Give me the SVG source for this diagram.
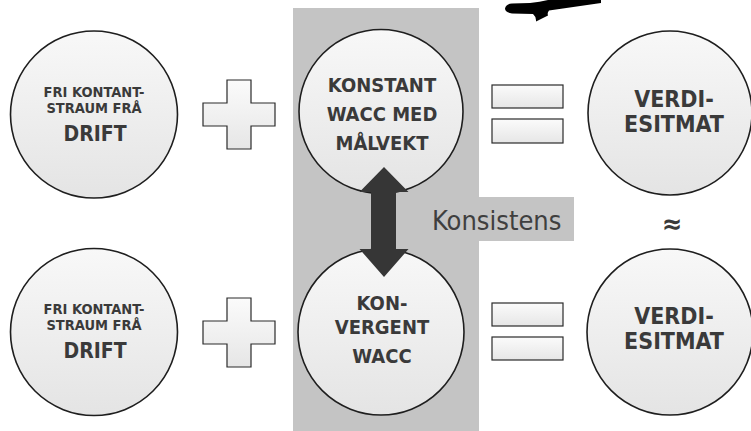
<svg xmlns="http://www.w3.org/2000/svg" width="751" height="431" viewBox="0 0 751 431">
  <defs>
    <linearGradient id="ballFill" x1="0" y1="0" x2="0" y2="1">
      <stop offset="0" stop-color="#f8f8f8"/>
      <stop offset="1" stop-color="#e4e4e4"/>
    </linearGradient>
    <linearGradient id="symFill" x1="0" y1="0" x2="0" y2="1">
      <stop offset="0" stop-color="#fbfbfb"/>
      <stop offset="1" stop-color="#e6e6e6"/>
    </linearGradient>
  </defs>
  <style>
    .ball { fill: url(#ballFill); stroke: #1e1e1e; stroke-width: 1.6; }
    .sym { fill: url(#symFill); stroke: #2a2a2a; stroke-width: 1.2; }
    .band { fill: #c4c4c4; }
    .lbl { font-family: "DejaVu Sans Condensed", "DejaVu Sans", sans-serif; font-stretch: condensed; font-weight: bold; fill: #3a3a3a; text-anchor: middle; }
    .s { font-size: 14.5px; }
    .m { font-size: 20px; }
    .d { font-size: 21px; }
    .l { font-size: 23px; }
    .ap { font-size: 27px; }
    .note { font-family: "DejaVu Sans Condensed", "DejaVu Sans", sans-serif; font-stretch: condensed; font-size: 27px; fill: #3f3f3f; }
    .link { fill: #363636; }
  </style>

  <!-- grey band behind the WACC column, with the consistency tab -->
  <g id="band">
    <rect class="band" x="293" y="8" width="186" height="423"/>
    <rect class="band" x="430" y="197" width="144" height="44"/>
    <text class="note" x="432" y="230">Konsistens</text>
  </g>

  <!-- curved black stroke at the top edge -->
  <path fill="#000" d="M548 0 L601 0 L601 3 L549 10.5 Q547 13 548 15.5 L536 21.5 Q536.5 17 533 14 L512 13.5 Q505 12.5 505 8.5 Q506 4 512 3.5 L530 3 Q540 2 548 0 Z"/>

  <!-- upper row -->
  <g id="fcf-top">
    <circle class="ball" cx="94" cy="114.5" r="83.5"/>
    <text class="lbl s" x="94" y="97">FRI KONTANT-</text>
    <text class="lbl s" x="94" y="113">STRAUM FRÅ</text>
    <text class="lbl d" x="95" y="141">DRIFT</text>
  </g>
  <g id="plus-top">
    <path class="sym" d="M227 80 H251 V103 H275 V126 H251 V149 H227 V126 H203 V103 H227 Z"/>
  </g>
  <g id="wacc-constant">
    <circle class="ball" cx="381" cy="111.5" r="82"/>
    <text class="lbl m" x="382" y="92">KONSTANT</text>
    <text class="lbl m" x="382" y="121">WACC MED</text>
    <text class="lbl m" x="382" y="150">MÅLVEKT</text>
  </g>
  <g id="equals-top">
    <rect class="sym" x="492" y="85" width="71" height="23"/>
    <rect class="sym" x="492" y="119" width="71" height="24"/>
  </g>
  <g id="value-top">
    <circle class="ball" cx="670" cy="113" r="82"/>
    <text class="lbl l" x="674" y="107">VERDI-</text>
    <text class="lbl l" x="674" y="132">ESITMAT</text>
  </g>

  <!-- approximately equal -->
  <g id="approx">
    <text class="lbl ap" x="672" y="233">≈</text>
  </g>

  <!-- lower row -->
  <g id="fcf-bottom">
    <circle class="ball" cx="94" cy="332" r="83.5"/>
    <text class="lbl s" x="94" y="314">FRI KONTANT-</text>
    <text class="lbl s" x="94" y="330">STRAUM FRÅ</text>
    <text class="lbl d" x="95" y="358">DRIFT</text>
  </g>
  <g id="plus-bottom">
    <path class="sym" d="M227 298 H251 V321 H275 V344 H251 V367 H227 V344 H203 V321 H227 Z"/>
  </g>
  <g id="wacc-convergent">
    <circle class="ball" cx="381" cy="332" r="83"/>
    <text class="lbl m" x="382" y="310">KON-</text>
    <text class="lbl m" x="382" y="334">VERGENT</text>
    <text class="lbl m" x="382" y="363">WACC</text>
  </g>
  <g id="equals-bottom">
    <rect class="sym" x="492" y="303" width="71" height="23"/>
    <rect class="sym" x="492" y="337" width="71" height="23"/>
  </g>
  <g id="value-bottom">
    <circle class="ball" cx="670" cy="332" r="83"/>
    <text class="lbl l" x="674" y="324">VERDI-</text>
    <text class="lbl l" x="674" y="349">ESITMAT</text>
  </g>

  <!-- two-way arrow between the WACC circles -->
  <g id="connectors">
    <path class="link" d="M384 167 L408.5 192 L396 192 L396 249 L408.5 249 L384 277 L359.5 249 L371 249 L371 192 L359.5 192 Z"/>
  </g>
</svg>
